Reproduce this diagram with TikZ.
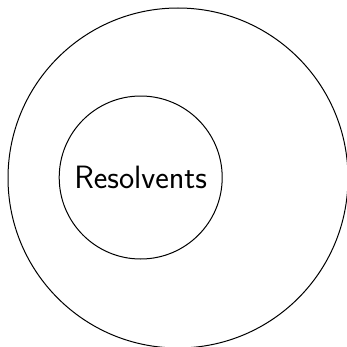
\documentclass[tikz,border=0pt]{standalone}
\usepackage{fontspec}
\begin{document}
\begin{tikzpicture}
[x=1pt,y=1pt,every node/.style={circle,draw=black,line width=1pt,inner sep=0pt,font=\sffamily\fontsize{32.3}{38}\selectfont}]
\useasboundingbox (0,0) rectangle (347,346);
\node[minimum size=340pt] (outer) at (178,168) {};
\node[minimum size=163pt] (inner) at (140.7,168.5) {Resolvents};
\end{tikzpicture}
\end{document}
